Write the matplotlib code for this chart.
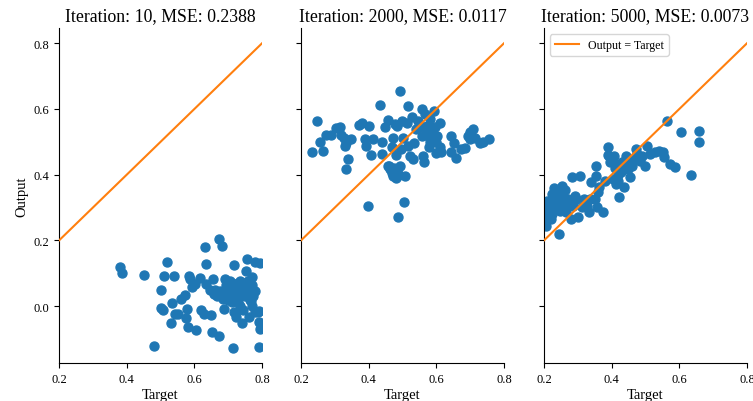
import numpy as np
import matplotlib
matplotlib.use("Agg")
import matplotlib.pyplot as plt

plt.rcParams['font.family'] = ['Liberation Serif', 'DejaVu Serif']

# %% data

iterations = [10, 2000, 5000]
mse = [0.2388, 0.0117, 0.0073]

target_10 = [0.380, 0.385, 0.451, 0.481, 0.501, 0.501, 0.508, 0.510, 0.519, 0.530,
             0.533, 0.540, 0.543, 0.553, 0.560, 0.571, 0.574, 0.578, 0.581, 0.583,
             0.586, 0.592, 0.602, 0.605, 0.617, 0.621, 0.627, 0.632, 0.635, 0.635,
             0.647, 0.649, 0.652, 0.654, 0.657, 0.666, 0.672, 0.674, 0.676, 0.681,
             0.684, 0.689, 0.691, 0.694, 0.698, 0.704, 0.706, 0.711, 0.713, 0.716,
             0.716, 0.721, 0.724, 0.728, 0.734, 0.736, 0.741, 0.744, 0.748, 0.754,
             0.756, 0.758, 0.761, 0.766, 0.768, 0.771, 0.774, 0.778, 0.780, 0.787,
             0.790, 0.790, 0.793, 0.795, 0.790, 0.660, 0.670, 0.700, 0.720, 0.730,
             0.745, 0.750, 0.760, 0.770, 0.765, 0.700, 0.710, 0.740, 0.755, 0.690,
             0.725, 0.735, 0.770, 0.780]
output_10 = [0.120, 0.101, 0.096, -0.120, 0.048, -0.006, -0.011, 0.091, 0.135, -0.051,
             0.009, 0.093, -0.023, -0.023, 0.022, 0.034, -0.035, -0.008, -0.064, 0.091,
             0.083, 0.058, 0.068, -0.072, 0.085, -0.013, -0.023, 0.179, 0.129, 0.068,
             0.048, -0.026, -0.079, 0.083, 0.037, 0.032, -0.092, 0.203, 0.045, 0.184,
             0.022, -0.008, 0.083, 0.063, 0.032, 0.078, 0.043, 0.014, -0.127, 0.124,
             -0.018, 0.063, -0.033, 0.012, 0.078, 0.002, -0.052, -0.013, 0.063, 0.108,
             0.144, 0.078, -0.033, 0.053, 0.017, 0.088, 0.032, 0.134, -0.018, -0.018,
             -0.125, -0.047, 0.131, -0.069, -0.016, 0.050, 0.040, 0.060, 0.050, 0.070,
             0.050, 0.030, 0.060, 0.000, 0.020, 0.020, 0.070, 0.035, 0.075, 0.050,
             0.030, -0.010, 0.065, 0.045]

target_2000 = [0.233, 0.247, 0.255, 0.265, 0.274, 0.289, 0.304, 0.314, 0.319, 0.326,
               0.329, 0.334, 0.339, 0.334, 0.347, 0.372, 0.381, 0.388, 0.393, 0.399,
               0.401, 0.406, 0.414, 0.433, 0.439, 0.439, 0.448, 0.458, 0.458, 0.463,
               0.468, 0.473, 0.473, 0.478, 0.481, 0.485, 0.488, 0.492, 0.492, 0.497,
               0.500, 0.502, 0.505, 0.507, 0.512, 0.515, 0.517, 0.522, 0.527, 0.532,
               0.535, 0.540, 0.546, 0.557, 0.561, 0.563, 0.557, 0.567, 0.572, 0.577,
               0.579, 0.582, 0.587, 0.592, 0.595, 0.599, 0.603, 0.612, 0.614, 0.612,
               0.642, 0.642, 0.652, 0.657, 0.674, 0.684, 0.694, 0.699, 0.709, 0.714,
               0.729, 0.739, 0.755, 0.699, 0.460, 0.470, 0.480, 0.490, 0.475, 0.485,
               0.570, 0.580, 0.590, 0.600, 0.595, 0.560]
output_2000 = [0.468, 0.564, 0.500, 0.472, 0.521, 0.521, 0.541, 0.546, 0.521, 0.513,
               0.488, 0.417, 0.448, 0.498, 0.510, 0.551, 0.556, 0.510, 0.488, 0.306,
               0.548, 0.460, 0.508, 0.612, 0.500, 0.463, 0.544, 0.567, 0.427, 0.417,
               0.483, 0.513, 0.397, 0.554, 0.460, 0.549, 0.270, 0.655, 0.427, 0.478,
               0.564, 0.513, 0.316, 0.397, 0.557, 0.610, 0.488, 0.458, 0.577, 0.448,
               0.498, 0.539, 0.564, 0.519, 0.458, 0.438, 0.600, 0.584, 0.549, 0.528,
               0.483, 0.569, 0.539, 0.595, 0.513, 0.466, 0.519, 0.557, 0.468, 0.483,
               0.519, 0.468, 0.498, 0.450, 0.478, 0.480, 0.519, 0.531, 0.539, 0.513,
               0.498, 0.500, 0.508, 0.508, 0.425, 0.405, 0.390, 0.400, 0.420, 0.410,
               0.520, 0.500, 0.520, 0.500, 0.545, 0.545]

target_5000 = [0.207, 0.207, 0.212, 0.217, 0.222, 0.222, 0.226, 0.231, 0.236, 0.241,
               0.244, 0.246, 0.251, 0.254, 0.256, 0.261, 0.261, 0.266, 0.271, 0.281,
               0.284, 0.286, 0.291, 0.296, 0.301, 0.306, 0.311, 0.318, 0.326, 0.334,
               0.336, 0.340, 0.350, 0.353, 0.355, 0.356, 0.359, 0.364, 0.373, 0.380,
               0.390, 0.393, 0.395, 0.403, 0.407, 0.410, 0.413, 0.419, 0.422, 0.429,
               0.436, 0.440, 0.443, 0.447, 0.452, 0.454, 0.459, 0.466, 0.472, 0.476,
               0.484, 0.489, 0.499, 0.504, 0.514, 0.529, 0.539, 0.552, 0.556, 0.563,
               0.572, 0.587, 0.605, 0.635, 0.657, 0.657, 0.205, 0.215, 0.225, 0.235,
               0.245, 0.225, 0.210, 0.250, 0.230, 0.430, 0.420, 0.410, 0.390]
output_5000 = [0.286, 0.245, 0.271, 0.296, 0.316, 0.266, 0.336, 0.301, 0.326, 0.346,
               0.220, 0.291, 0.316, 0.367, 0.336, 0.352, 0.306, 0.286, 0.326, 0.266,
               0.392, 0.306, 0.336, 0.326, 0.271, 0.397, 0.301, 0.326, 0.306, 0.286,
               0.326, 0.377, 0.326, 0.427, 0.397, 0.301, 0.346, 0.362, 0.286, 0.380,
               0.483, 0.458, 0.438, 0.387, 0.458, 0.433, 0.372, 0.382, 0.331, 0.407,
               0.362, 0.427, 0.458, 0.417, 0.438, 0.392, 0.427, 0.448, 0.478, 0.463,
               0.443, 0.458, 0.427, 0.488, 0.463, 0.468, 0.473, 0.468, 0.453, 0.564,
               0.433, 0.423, 0.531, 0.399, 0.534, 0.500, 0.260, 0.300, 0.280, 0.310,
               0.340, 0.340, 0.320, 0.300, 0.360, 0.440, 0.400, 0.420, 0.460]

targets = [target_10, target_2000, target_5000]
outputs = [output_10, output_2000, output_5000]

# %% plot

fig = plt.figure(figsize=(7.53, 4.02), dpi=100)
lefts = [0.0784, 0.3997, 0.7224]
axes = []
for i, left in enumerate(lefts):
    ax = fig.add_axes([left, 0.0945, 0.2696, 0.833],
                      sharey=axes[0] if axes else None)
    axes.append(ax)

line_x = np.array([0.2, 0.8])
for i, ax in enumerate(axes):
    ax.scatter(targets[i], outputs[i], s=42, color="#1f77b4", zorder=2)
    ax.plot(line_x, line_x, color="#ff7f0e", lw=1.5, label="Output = Target", zorder=3)
    ax.set_xlim(0.2, 0.8)
    ax.set_title(f"Iteration: {iterations[i]}, MSE: {mse[i]:.4f}", fontsize=12.8)
    ax.set_xlabel("Target", fontsize=10.5, labelpad=2)
    ax.set_xticks([0.2, 0.4, 0.6, 0.8])
    ax.tick_params(labelsize=9)
    ax.spines['top'].set_visible(False)
    ax.spines['right'].set_visible(False)
    if i > 0:
        ax.tick_params(labelleft=False)

axes[0].set_ylim(-0.173, 0.846)
axes[0].set_yticks([0.0, 0.2, 0.4, 0.6, 0.8])
axes[0].set_ylabel("Output", fontsize=10.5)
axes[2].legend(loc="upper left", fontsize=8.6)

fig.savefig("out.png", dpi=100)
